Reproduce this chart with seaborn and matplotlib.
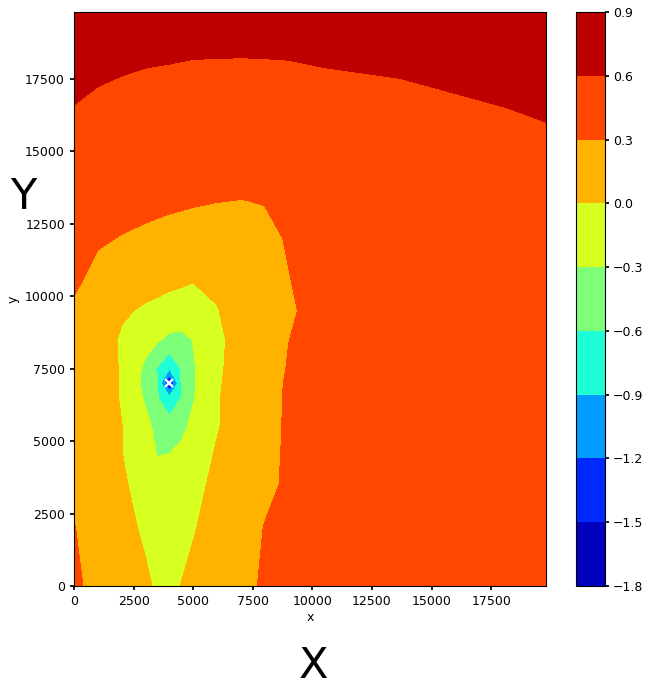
import numpy as np
import pandas as pd
import matplotlib
matplotlib.use("Agg")
import matplotlib.pyplot as plt
import seaborn as sns

# grid node coordinates
x_nodes = [0, 1000, 2000, 3000, 3500, 4000, 4500, 5000, 6000, 7000, 8000, 9000, 10500, 13500, 16500, 19800]
y_nodes = [0, 2000, 3500, 4500, 5500, 6500, 7000, 7500, 8500, 9500, 10500, 12000, 13300, 15000, 16500, 17500, 18500, 19800]

# field values, one row per y node (estimated from contour positions)
row_00000 = [0.33, 0.25, 0.15, 0.06, -0.05, -0.10, 0.01, 0.07, 0.16, 0.255, 0.32, 0.37, 0.40, 0.43, 0.45, 0.46]
row_02000 = [0.305, 0.23, 0.12, -0.06, -0.15, -0.20, -0.13, -0.02, 0.12, 0.23, 0.305, 0.35, 0.40, 0.44, 0.46, 0.47]
row_03500 = [0.27, 0.20, 0.05, -0.14, -0.24, -0.27, -0.20, -0.10, 0.08, 0.18, 0.27, 0.32, 0.39, 0.44, 0.46, 0.47]
row_04500 = [0.25, 0.17, 0.01, -0.20, -0.305, -0.29, -0.24, -0.15, 0.03, 0.16, 0.26, 0.32, 0.38, 0.43, 0.45, 0.46]
row_05500 = [0.24, 0.15, 0.005, -0.22, -0.38, -0.45, -0.36, -0.24, -0.02, 0.14, 0.25, 0.32, 0.38, 0.43, 0.45, 0.46]
row_06500 = [0.23, 0.13, -0.02, -0.34, -0.58, -0.85, -0.595, -0.32, -0.02, 0.12, 0.24, 0.32, 0.38, 0.43, 0.45, 0.46]
row_07000 = [0.23, 0.12, -0.02, -0.38, -0.59, -1.60, -0.58, -0.33, -0.03, 0.11, 0.23, 0.32, 0.38, 0.43, 0.45, 0.46]
row_07500 = [0.23, 0.12, -0.02, -0.36, -0.62, -0.88, -0.58, -0.33, -0.04, 0.10, 0.22, 0.31, 0.38, 0.43, 0.45, 0.46]
row_08500 = [0.24, 0.12, -0.03, -0.20, -0.27, -0.36, -0.38, -0.29, -0.05, 0.09, 0.21, 0.298, 0.37, 0.43, 0.45, 0.46]
row_09500 = [0.26, 0.14, 0.03, -0.03, -0.05, -0.10, -0.12, -0.12, -0.01, 0.10, 0.20, 0.28, 0.36, 0.43, 0.46, 0.47]
row_10500 = [0.34, 0.22, 0.13, 0.08, 0.06, 0.05, 0.03, 0.005, 0.04, 0.14, 0.22, 0.295, 0.36, 0.44, 0.47, 0.48]
row_12000 = [0.42, 0.33, 0.29, 0.26, 0.245, 0.23, 0.22, 0.21, 0.21, 0.23, 0.27, 0.31, 0.37, 0.45, 0.49, 0.50]
row_13300 = [0.47, 0.42, 0.39, 0.36, 0.35, 0.34, 0.33, 0.32, 0.305, 0.298, 0.305, 0.33, 0.38, 0.45, 0.50, 0.51]
row_15000 = [0.53, 0.49, 0.46, 0.44, 0.43, 0.42, 0.415, 0.41, 0.40, 0.40, 0.405, 0.42, 0.45, 0.50, 0.54, 0.57]
row_16500 = [0.595, 0.56, 0.54, 0.52, 0.51, 0.50, 0.495, 0.49, 0.485, 0.485, 0.49, 0.50, 0.52, 0.56, 0.585, 0.615]
row_17500 = [0.65, 0.615, 0.595, 0.58, 0.575, 0.57, 0.565, 0.56, 0.555, 0.553, 0.555, 0.56, 0.575, 0.598, 0.625, 0.66]
row_18500 = [0.70, 0.67, 0.65, 0.635, 0.632, 0.63, 0.625, 0.62, 0.62, 0.618, 0.62, 0.623, 0.64, 0.66, 0.68, 0.71]
row_19800 = [0.76, 0.74, 0.73, 0.72, 0.715, 0.71, 0.705, 0.70, 0.70, 0.70, 0.70, 0.70, 0.72, 0.74, 0.76, 0.78]

levels = [-1.8, -1.5, -1.2, -0.9, -0.6, -0.3, 0.0, 0.3, 0.6, 0.9]
source_x = [4000]
source_y = [7000]

rows = [row_00000, row_02000, row_03500, row_04500, row_05500, row_06500, row_07000,
        row_07500, row_08500, row_09500, row_10500, row_12000, row_13300, row_15000,
        row_16500, row_17500, row_18500, row_19800]
field = pd.DataFrame(rows, index=y_nodes, columns=x_nodes)

sns.set_theme(style="ticks", rc={
    "axes.edgecolor": "black", "xtick.color": "black", "ytick.color": "black",
    "text.color": "black", "axes.labelcolor": "black", "axes.linewidth": 0.8,
    "xtick.labelsize": 9, "ytick.labelsize": 9, "axes.labelsize": 9,
    "xtick.major.size": 3, "ytick.major.size": 3,
})
plt.rcParams["font.family"] = ["DejaVu Sans"]

fig = plt.figure(figsize=(6.47, 6.88), dpi=100)
ax = fig.add_axes([74 / 647, 1 - 586 / 688, 472 / 647, 574 / 688])
cax = fig.add_axes([576 / 647, 1 - 586 / 688, 29 / 647, 574 / 688])

cs = ax.contourf(field.columns.values, field.index.values, field.values,
                 levels=levels, cmap="jet")
ax.plot(source_x, source_y, marker="x", color="white", markersize=6, mew=1.6,
        linestyle="none")
ax.set_xticks([0, 2500, 5000, 7500, 10000, 12500, 15000, 17500])
ax.set_yticks([0, 2500, 5000, 7500, 10000, 12500, 15000, 17500])
ax.set_xlabel("x", labelpad=2)
ax.set_ylabel("y", labelpad=4)

cb = fig.colorbar(cs, cax=cax)
cb.set_ticks(levels)
cb.outline.set_linewidth(0.8)
cax.tick_params(labelsize=9, length=3, pad=2.5)

fig.text(23.5 / 647, 1 - 197 / 688, "Y", fontsize=31, ha="center", va="center")
fig.text(313 / 647, 1 - 666 / 688, "X", fontsize=31, ha="center", va="center")

fig.savefig("out.png", dpi=100)
